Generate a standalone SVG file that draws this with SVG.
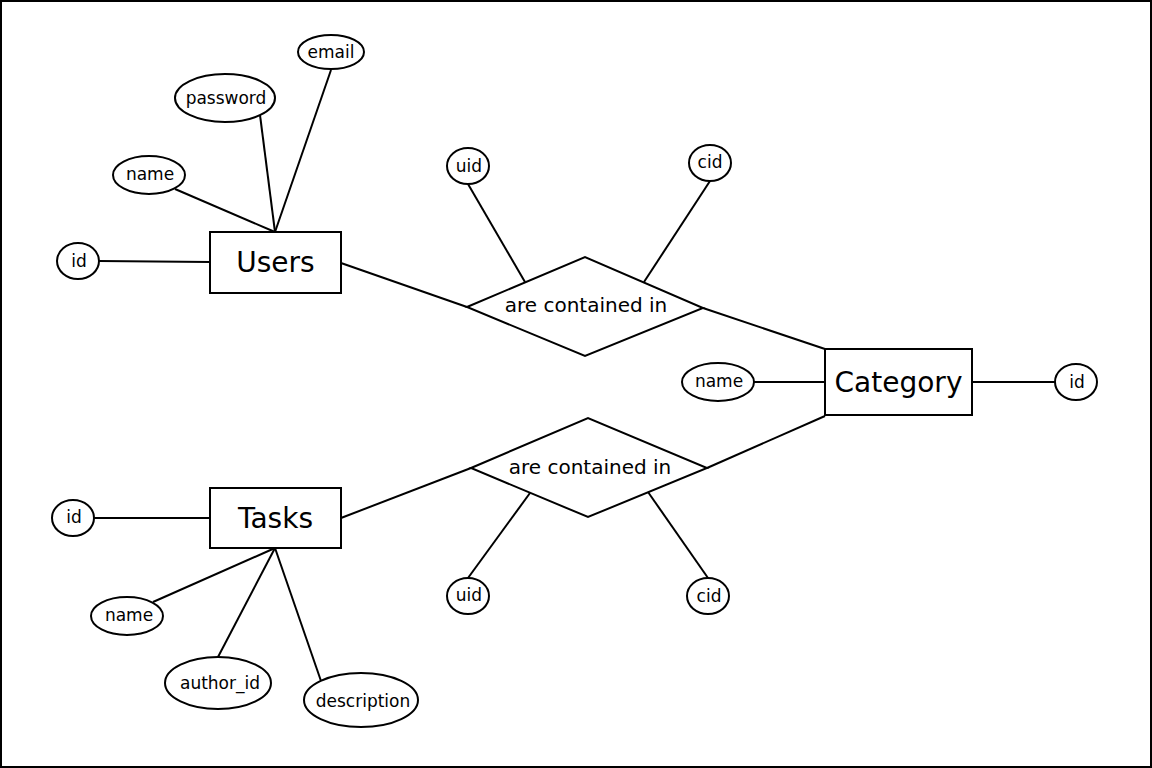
<svg xmlns="http://www.w3.org/2000/svg" width="1152" height="768" viewBox="0 0 1152 768">
<style>
.s{fill:#fff;stroke:#000;stroke-width:2}
.l{stroke:#000;stroke-width:2;fill:none}
text{font-family:"DejaVu Sans","Liberation Sans",sans-serif;fill:#000;text-anchor:middle;dominant-baseline:central}
.a{font-size:17px}
.e{font-size:28px}
.r{font-size:20px}
</style>
<rect x="1" y="1" width="1150" height="766" fill="#fff" stroke="#000" stroke-width="2"/>
<g id="connectors">
<line class="l" x1="275" y1="232" x2="331" y2="70"/>
<line class="l" x1="275" y1="232" x2="260" y2="115"/>
<line class="l" x1="275" y1="232" x2="175" y2="189"/>
<line class="l" x1="99" y1="261" x2="210" y2="262"/>
<line class="l" x1="341" y1="263" x2="467" y2="307"/>
<line class="l" x1="703" y1="308" x2="825" y2="349"/>
<line class="l" x1="468" y1="184" x2="525" y2="282"/>
<line class="l" x1="710" y1="181" x2="644" y2="282"/>
<line class="l" x1="754" y1="382" x2="825" y2="382"/>
<line class="l" x1="972" y1="382" x2="1055" y2="382"/>
<line class="l" x1="707" y1="468" x2="825" y2="416"/>
<line class="l" x1="341" y1="518" x2="471" y2="468"/>
<line class="l" x1="94" y1="518" x2="210" y2="518"/>
<line class="l" x1="275" y1="548" x2="153" y2="602"/>
<line class="l" x1="275" y1="548" x2="218" y2="657"/>
<line class="l" x1="275" y1="548" x2="321" y2="681"/>
<line class="l" x1="468" y1="578" x2="530" y2="493"/>
<line class="l" x1="708" y1="578" x2="648" y2="492"/>
</g>
<g id="users"><rect class="s" x="210" y="232" width="131" height="61"/><text class="e" x="275.5" y="262">Users</text></g>
<g id="tasks"><rect class="s" x="210" y="488" width="131" height="60"/><text class="e" x="275.5" y="518">Tasks</text></g>
<g id="category"><rect class="s" x="825" y="349" width="147" height="66"/><text class="e" x="898.5" y="382">Category</text></g>
<g id="rel-top"><polygon class="s" points="467,307 585,257 703,308 585,356"/><text class="r" x="586" y="305">are contained in</text></g>
<g id="rel-bottom"><polygon class="s" points="471,468 588,418 707,468 588,517"/><text class="r" x="590" y="467">are contained in</text></g>
<g id="users-email"><ellipse class="s" cx="331" cy="52" rx="33" ry="17"/><text class="a" x="331" y="52">email</text></g>
<g id="users-password"><ellipse class="s" cx="225" cy="98" rx="50" ry="24"/><text class="a" x="226" y="98">password</text></g>
<g id="users-name"><ellipse class="s" cx="149" cy="175" rx="36" ry="19"/><text class="a" x="150" y="174">name</text></g>
<g id="users-id"><ellipse class="s" cx="78" cy="261" rx="21" ry="18"/><text class="a" x="79" y="261">id</text></g>
<g id="top-uid"><ellipse class="s" cx="468" cy="166" rx="21" ry="18"/><text class="a" x="469" y="166">uid</text></g>
<g id="top-cid"><ellipse class="s" cx="710" cy="163" rx="21" ry="18"/><text class="a" x="710" y="162">cid</text></g>
<g id="category-name"><ellipse class="s" cx="718" cy="382" rx="36" ry="19"/><text class="a" x="719" y="381">name</text></g>
<g id="category-id"><ellipse class="s" cx="1076" cy="382" rx="21" ry="18"/><text class="a" x="1077" y="382">id</text></g>
<g id="tasks-id"><ellipse class="s" cx="73" cy="518" rx="21" ry="18"/><text class="a" x="74" y="517">id</text></g>
<g id="tasks-name"><ellipse class="s" cx="127" cy="616" rx="36" ry="19"/><text class="a" x="129" y="615">name</text></g>
<g id="tasks-author"><ellipse class="s" cx="218" cy="683" rx="53" ry="26"/><text class="a" x="220" y="683">author_id</text></g>
<g id="tasks-description"><ellipse class="s" cx="361" cy="700" rx="57" ry="27"/><text class="a" x="363" y="701">description</text></g>
<g id="bottom-uid"><ellipse class="s" cx="468" cy="596" rx="21" ry="18"/><text class="a" x="469" y="595">uid</text></g>
<g id="bottom-cid"><ellipse class="s" cx="708" cy="596" rx="21" ry="18"/><text class="a" x="709" y="596">cid</text></g>
</svg>
